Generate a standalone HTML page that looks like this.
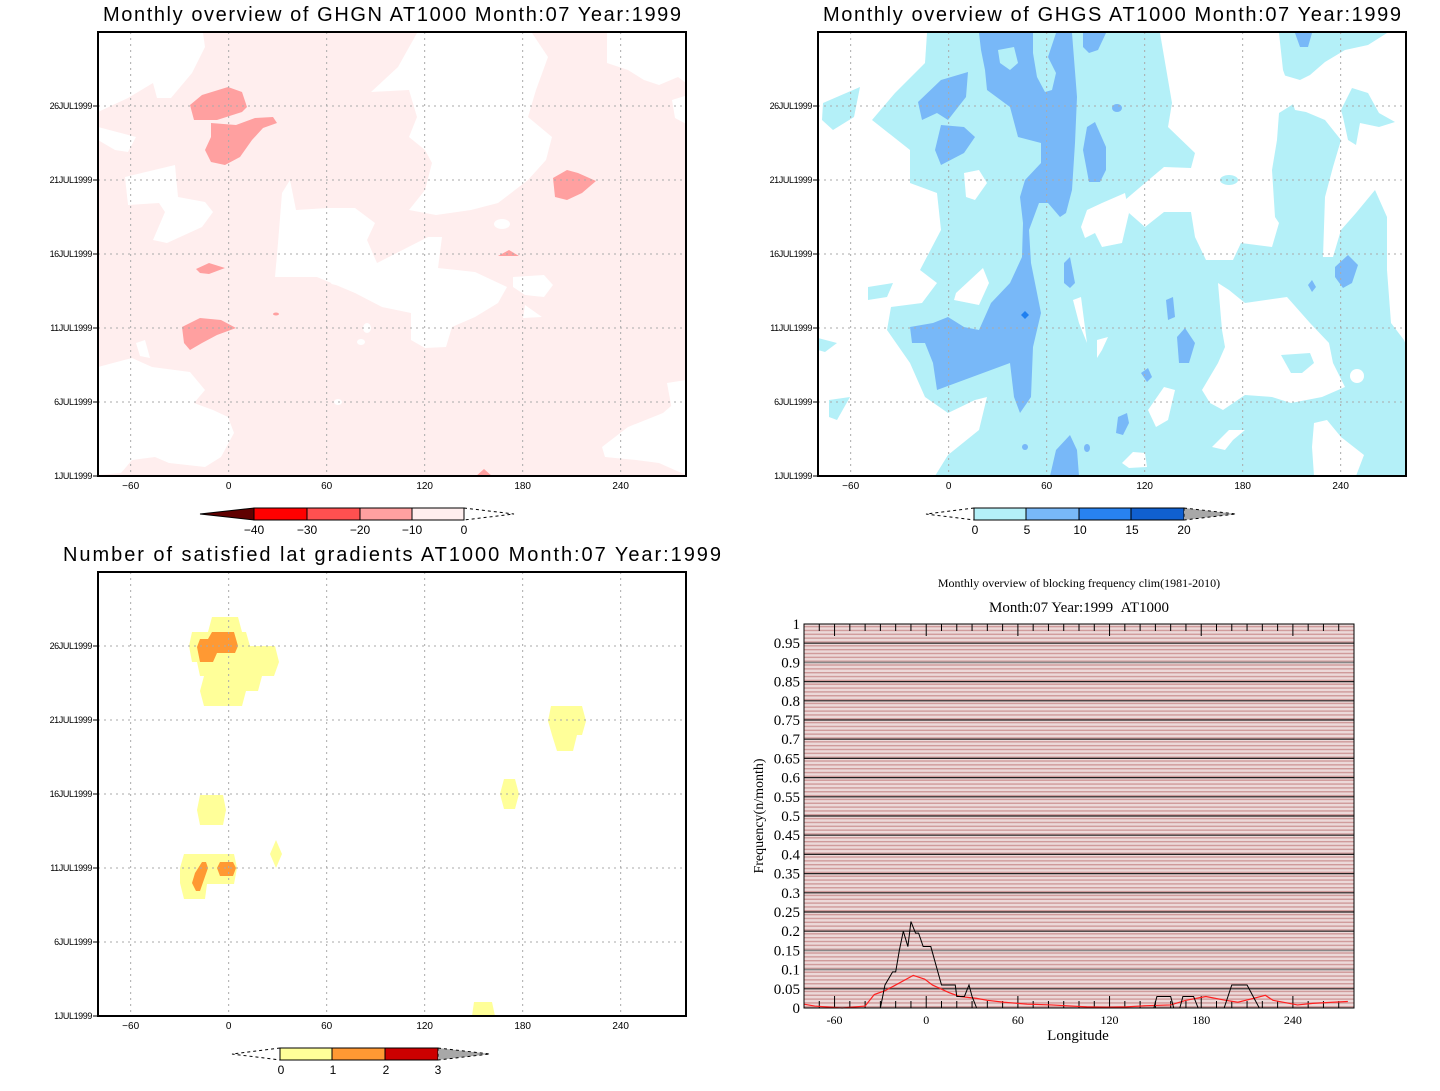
<!DOCTYPE html>
<html><head><meta charset="utf-8">
<style>
html,body{margin:0;padding:0;background:#fff;}
svg{display:block;}
.t{font-family:"Liberation Sans",sans-serif;}
.s{font-family:"Liberation Serif",serif;}
.grid{stroke:#aaa;stroke-width:1;stroke-dasharray:2,4;fill:none;}
</style></head>
<body>
<svg id="root" width="1440" height="1091" viewBox="0 0 1440 1091" xmlns="http://www.w3.org/2000/svg">
<defs>
<clipPath id="c1"><rect x="98" y="32" width="588" height="444"/></clipPath>
<clipPath id="c2"><rect x="818" y="32" width="588" height="444"/></clipPath>
<clipPath id="c3"><rect x="98" y="572" width="588" height="444"/></clipPath>
<pattern id="stripes" width="10" height="3.84" patternUnits="userSpaceOnUse" y="624">
<rect width="10" height="3.84" fill="#ecd9d9"/><rect y="1.92" width="10" height="1.4" fill="#cf9a9a"/>
</pattern>
</defs>

<!-- ===== Map 1: GHGN ===== -->
<g>
<text class="t" x="392" y="21" font-size="20" text-anchor="middle" textLength="578">Monthly overview of GHGN AT1000 Month:07 Year:1999</text>
<g clip-path="url(#c1)">
<rect x="98" y="32" width="588" height="444" fill="#ffeeee"/>
<g fill="#fff">
<polygon points="98,33 203,33 205,47 192,73 171,98 157,98 153,83 128,98 98,112"/>
<polygon points="417,33 532,33 548,57 536,90 528,117 552,137 546,160 528,180 498,203 471,210 436,215 409,210 425,190 432,163 425,150 409,137 417,117 409,90 371,92 398,67"/>
<polygon points="607,33 688,33 686,83 678,77 659,85 644,80 628,70 607,63"/>
<polygon points="672,100 688,95 688,125 675,118"/>
<polygon points="125,177 175,165 178,197 205,202 213,212 202,227 167,243 153,240 165,212 159,203 128,205"/>
<polygon points="98,127 136,137 128,152 115,150 98,140"/>
<polygon points="290,180 296,210 328,208 355,208 375,223 367,240 377,263 428,237 442,237 438,268 475,272 507,287 498,303 475,317 452,327 446,347 425,348 411,340 411,313 382,307 355,293 317,277 275,277 278,243 282,193"/>
<polygon points="513,277 544,275 553,285 544,297 525,295 513,287"/>
<polygon points="525,305 542,317 523,318"/>
<polygon points="98,367 113,363 132,358 152,367 190,372 205,390 194,403 213,410 228,417 234,433 221,457 205,467 169,463 155,457 132,460 121,473 98,475"/>
<polygon points="136,343 145,340 150,358 140,356"/>
<polygon points="98,375 112,375 110,410 104,430 98,430"/>
<polygon points="602,447 628,427 663,413 678,400 686,397 686,475 659,463 636,460 605,457"/>
<polygon points="667,383 686,380 686,413 672,410"/>
<ellipse cx="502" cy="224" rx="8" ry="5"/><ellipse cx="460" cy="62" rx="9" ry="5"/><ellipse cx="484" cy="47" rx="6" ry="3"/>
<ellipse cx="367" cy="328" rx="4" ry="5"/><ellipse cx="361" cy="342" rx="4" ry="3"/><ellipse cx="338" cy="283" rx="7" ry="2"/>
<ellipse cx="338" cy="402" rx="4" ry="3"/>
</g>
<g fill="#ffa0a0">
<polygon points="190,105 202,95 228,87 242,92 247,107 242,112 217,120 194,120"/>
<polygon points="211,123 236,125 255,118 273,117 277,123 263,128 252,140 240,157 225,165 211,162 205,150 211,137"/>
<polygon points="553,178 567,170 578,173 596,181 582,193 567,200 555,197"/>
<polygon points="196,269 209,263 225,268 209,274 200,273"/>
<polygon points="182,327 200,318 221,320 236,328 217,335 202,343 190,350 184,343"/>
<polygon points="498,256 509,250 519,256"/>
<ellipse cx="276" cy="314" rx="3" ry="1.5"/>
<polygon points="475,477 484,469 493,477"/>
</g>
</g>
<g id="g1"></g>
<rect x="98" y="32" width="588" height="444" fill="none" stroke="#000" stroke-width="2"/>
<g stroke="#000" stroke-width="1">
<polygon points="200,514 254,508 254,520" fill="#600000"/>
<rect x="254" y="508" width="53" height="12" fill="#ff0000"/>
<rect x="307" y="508" width="53" height="12" fill="#ff5050"/>
<rect x="360" y="508" width="52" height="12" fill="#ffa0a0"/>
<rect x="412" y="508" width="52" height="12" fill="#ffeeee"/>
<polyline points="464,508 514,514 464,520" fill="none" stroke-dasharray="3,3"/>
<g class="t" font-size="12" stroke="none" fill="#000" text-anchor="middle">
<text x="254" y="534">−40</text><text x="307" y="534">−30</text><text x="360" y="534">−20</text><text x="412" y="534">−10</text><text x="464" y="534">0</text>
</g></g>
</g>

<!-- ===== Map 2: GHGS ===== -->
<g>
<text class="t" x="1112" y="21" font-size="20" text-anchor="middle" textLength="578">Monthly overview of GHGS AT1000 Month:07 Year:1999</text>
<g clip-path="url(#c2)">
<rect x="818" y="32" width="588" height="444" fill="#b4f0f8"/>
<g fill="#fff">
<polygon points="818,33 927,33 925,63 895,93 872,120 910,150 910,183 937,193 941,230 920,270 937,283 922,303 891,307 887,330 910,363 925,397 948,413 975,400 987,397 979,430 948,455 935,476 818,476"/>
<polygon points="1160,33 1279,33 1283,70 1295,103 1279,113 1277,140 1272,170 1275,217 1279,223 1272,247 1241,243 1233,260 1206,260 1195,237 1191,212 1164,212 1145,227 1129,213 1125,200 1145,183 1164,167 1191,168 1195,153 1168,127 1172,103"/>
<polygon points="1283,75 1300,80 1310,75 1325,62 1345,50 1368,45 1387,33 1408,33 1408,350 1404,340 1391,323 1387,270 1387,217 1375,190 1356,213 1341,230 1333,257 1323,257 1325,197 1333,167 1341,140 1333,130 1325,120 1306,112 1295,110"/>
<polygon points="1245,303 1287,297 1310,323 1329,343 1333,363 1345,387 1322,397 1291,403 1272,397 1245,395 1223,410 1210,403 1202,390 1218,363 1225,347 1222,330 1218,283 1229,290"/>
<polygon points="1314,423 1327,420 1341,437 1364,455 1356,476 1314,476 1312,447"/>
<polygon points="1073,300 1081,297 1087,343 1079,323"/>
<polygon points="1097,340 1108,337 1102,350 1097,358"/>
<polygon points="1148,410 1164,387 1175,390 1168,420 1156,427"/>
<polygon points="1122,463 1133,452 1145,453 1147,467 1129,468"/>
<polygon points="1212,447 1229,430 1245,430 1233,440 1225,450"/>
<polygon points="964,173 979,170 987,183 975,200 966,197"/>
<polygon points="956,293 983,268 989,283 979,305 954,300"/>
<polygon points="1081,227 1087,210 1102,203 1125,193 1129,213 1122,243 1102,247 1095,233 1085,238"/>
<circle cx="1357" cy="376" r="7"/>
</g>
<g fill="#b4f0f8">
<polygon points="823,103 860,87 854,117 833,130 822,120"/>
<polygon points="868,287 893,283 887,297 868,300"/>
<polygon points="818,338 837,343 825,352 818,350"/>
<polygon points="829,400 850,397 837,420 829,417"/>
<ellipse cx="1229" cy="180" rx="9" ry="5"/>
<polygon points="1341,110 1352,88 1368,93 1379,113 1395,122 1379,127 1360,123 1356,145 1348,140 1343,117"/>
<polygon points="1281,355 1310,353 1314,363 1302,373 1291,373"/>
</g>
<g fill="#78b8f8">
<polygon points="979,33 1072,33 1077,97 1075,143 1072,190 1066,213 1060,217 1048,203 1039,203 1029,230 1031,263 1041,313 1033,347 1031,397 1020,413 1014,397 1010,363 964,380 937,390 933,363 925,343 912,343 910,327 933,323 948,317 964,327 979,330 991,303 1010,283 1022,257 1023,223 1020,197 1025,180 1041,163 1041,143 1018,137 1010,107 987,90 985,70 981,50"/>
<polygon points="918,102 941,80 968,72 966,97 948,120 937,113 922,120"/>
<polygon points="941,125 964,127 975,137 964,153 941,165 935,150"/>
<polygon points="1087,127 1095,122 1106,147 1106,170 1100,182 1089,182 1083,150"/>
<polygon points="1083,33 1106,33 1098,50 1089,53 1083,47"/>
<polygon points="1050,476 1056,450 1070,435 1077,450 1079,476"/>
<polygon points="1064,263 1070,257 1075,283 1070,288 1064,283"/>
<polygon points="1166,300 1173,297 1175,317 1168,320"/>
<polygon points="1177,337 1185,328 1195,343 1189,363 1179,363"/>
<polygon points="1141,373 1148,368 1152,377 1147,382"/>
<polygon points="1118,417 1127,413 1129,423 1123,435 1116,433"/>
<polygon points="1335,267 1348,255 1358,265 1352,283 1343,288 1335,277"/>
<polygon points="1295,33 1312,33 1308,47 1300,47"/>
<polygon points="1308,285 1312,280 1316,287 1312,292"/>
<ellipse cx="1117" cy="108" rx="5" ry="4"/><ellipse cx="1025" cy="447" rx="3" ry="3"/><ellipse cx="1087" cy="448" rx="3" ry="4"/>
</g>
<g fill="#b4f0f8">
<polygon points="1033,33 1056,33 1048,57 1056,73 1052,90 1045,92 1037,77 1033,53"/>
<polygon points="998,50 1014,47 1018,63 1010,70 1000,63"/>
</g>
<polygon points="1021,315 1025,311 1029,315 1025,319" fill="#2080f0"/>
</g>
<g id="g2"></g>
<rect x="818" y="32" width="588" height="444" fill="none" stroke="#000" stroke-width="2"/>
<g stroke="#000" stroke-width="1">
<polyline points="974,508 926,514 974,520" fill="none" stroke-dasharray="3,3"/>
<rect x="974" y="508" width="52" height="12" fill="#b4f0f8"/>
<rect x="1026" y="508" width="53" height="12" fill="#78b8f8"/>
<rect x="1079" y="508" width="52" height="12" fill="#2882f0"/>
<rect x="1131" y="508" width="53" height="12" fill="#1060d0"/>
<polygon points="1184,508 1236,514 1184,520" fill="#a8a8a8" stroke-dasharray="3,3"/>
<g class="t" font-size="12" stroke="none" fill="#000" text-anchor="middle">
<text x="975" y="534">0</text><text x="1027" y="534">5</text><text x="1080" y="534">10</text><text x="1132" y="534">15</text><text x="1184" y="534">20</text>
</g></g>
</g>

<!-- ===== Map 3: gradients ===== -->
<g>
<text class="t" x="392" y="561" font-size="20" text-anchor="middle" textLength="658">Number of satisfied lat gradients AT1000 Month:07 Year:1999</text>
<g clip-path="url(#c3)">
<g fill="#ffff99">
<polygon points="212,617 238,617 242,632 246,632 250,646 275,646 279,662 274,676 262,676 258,691 246,691 242,706 204,706 200,691 204,676 200,676 197,662 192,662 189,646 192,632 208,632"/>
<polygon points="551,706 582,706 586,721 582,735 577,735 573,751 557,751 552,735 548,721"/>
<polygon points="504,779 515,779 519,794 515,809 504,809 500,794"/>
<polygon points="200,795 223,795 226,810 223,825 200,825 197,810"/>
<polygon points="276,840 282,854 276,868 270,854"/>
<polygon points="184,854 234,854 237,868 234,884 207,884 205,899 184,899 180,883 180,868"/>
<polygon points="474,1002 492,1002 495,1016 472,1016"/>
</g>
<g fill="#ff9933">
<polygon points="212,632 234,632 238,646 235,653 217,653 213,662 200,662 197,647 200,639 208,639"/>
<polygon points="202,862 206,862 208,868 200,891 196,891 192,883 195,873"/>
<polygon points="220,862 233,862 236,868 233,876 220,876 217,868"/>
</g>
</g>
<g id="g3"></g>
<rect x="98" y="572" width="588" height="444" fill="none" stroke="#000" stroke-width="2"/>
<g stroke="#000" stroke-width="1">
<polyline points="280,1048 232,1054 280,1060" fill="none" stroke-dasharray="3,3"/>
<rect x="280" y="1048" width="52" height="12" fill="#ffff99"/>
<rect x="332" y="1048" width="53" height="12" fill="#ff9933"/>
<rect x="385" y="1048" width="53" height="12" fill="#cc0000"/>
<polygon points="438,1048 490,1054 438,1060" fill="#a8a8a8" stroke-dasharray="3,3"/>
<g class="t" font-size="12" stroke="none" fill="#000" text-anchor="middle">
<text x="281" y="1074">0</text><text x="333" y="1074">1</text><text x="386" y="1074">2</text><text x="438" y="1074">3</text>
</g></g>
</g>

<!-- ===== Line chart ===== -->
<g>
<text class="s" x="1079" y="587" font-size="12" text-anchor="middle">Monthly overview of blocking frequency clim(1981-2010)</text>
<text class="s" x="1079" y="612" font-size="15" text-anchor="middle">Month:07 Year:1999&#160;&#160;AT1000</text>
<rect x="804" y="624" width="550" height="384" fill="url(#stripes)"/>
<g id="lc"></g>
<rect x="804" y="624" width="550" height="384" fill="none" stroke="#000" stroke-width="1"/>
<text class="s" x="1078" y="1040" font-size="15" text-anchor="middle">Longitude</text>
<text class="s" x="763" y="816" font-size="14" text-anchor="middle" transform="rotate(-90 763 816)">Frequency(n/month)</text>
</g>
</svg>

<script>
// ---- Line chart data ----
const blackLon = [-80,-30,-27,-22,-20,-17.6,-15,-12,-10,-7,-5,-2,3,10,19,20,25,28,30,33,149,151,160,162,166,168,175,178,195,200,210,214,218,280];
const blackVal = [0,0,0.06,0.094,0.094,0.15,0.2,0.16,0.225,0.195,0.195,0.16,0.16,0.06,0.06,0.03,0.03,0.06,0.03,0,0,0.03,0.03,0,0,0.03,0.03,0,0,0.06,0.06,0.03,0,0];
const redLon = [-80,-73,-55,-40,-34,-27,-19,-8.5,-1,4,15,22,33,40,51,66,82,105,118,131,144,160,170,183,196,204,214,222,227,243,253,266,276];
const redVal = [0.01,0.005,0,0.005,0.035,0.045,0.062,0.085,0.075,0.06,0.04,0.03,0.025,0.02,0.015,0.01,0.008,0.003,0.002,0.003,0.006,0.008,0.02,0.03,0.02,0.015,0.025,0.033,0.02,0.008,0.012,0.015,0.017];
const yTicks = [0,0.05,0.1,0.15,0.2,0.25,0.3,0.35,0.4,0.45,0.5,0.55,0.6,0.65,0.7,0.75,0.8,0.85,0.9,0.95,1];
const yTickLabels = ["0","0.05","0.1","0.15","0.2","0.25","0.3","0.35","0.4","0.45","0.5","0.55","0.6","0.65","0.7","0.75","0.8","0.85","0.9","0.95","1"];
const lonTicks = [-60,0,60,120,180,240];
const dateTicks = [1,6,11,16,21,26];
const dateLabels = ["1JUL1999","6JUL1999","11JUL1999","16JUL1999","21JUL1999","26JUL1999"];

const NS = "http://www.w3.org/2000/svg";
function mk(tag, attrs, parent){const e=document.createElementNS(NS,tag);for(const k in attrs)e.setAttribute(k,attrs[k]);parent.appendChild(e);return e;}

// line chart axes
const X0=804,X1=1354,Y0=1008,Y1=624;
function xs(lon){return X0+(lon+80)/360*(X1-X0);}
function ys(v){return Y0-v*(Y0-Y1);}
const lc=document.getElementById('lc');
yTicks.forEach((v,i)=>{
  const gray=(Math.abs(v-0.9)<1e-6||Math.abs(v-0.15)<1e-6||Math.abs(v-0.1)<1e-6);
  if(v>0&&v<1){const l=mk('line',{x1:X0,x2:X1,y1:ys(v),y2:ys(v),stroke:gray?'#888':'#222','stroke-width':gray?1.6:1.2},lc);
  
  }
  const t=mk('text',{x:800,y:ys(v)+5,'font-size':15,'text-anchor':'end','class':'s'},lc);
  t.textContent=yTickLabels[i];
  
  
});
for(let lon=-70;lon<=270;lon+=10){
  const major=lonTicks.includes(lon);const len=major?12:7;
  const a=mk('line',{x1:xs(lon),x2:xs(lon),y1:Y1,y2:Y1+len,stroke:'#000'},lc);
  
  
  const b=mk('line',{x1:xs(lon),x2:xs(lon),y1:Y0,y2:Y0-len,stroke:'#000'},lc);
  
  
}
lonTicks.forEach(lon=>{
  const t=mk('text',{x:xs(lon),y:1024,'font-size':12,'text-anchor':'middle','class':'s'},lc);
  t.textContent=String(lon);
  
  
});
const redLine=mk('polyline',{points:redLon.map((l,i)=>xs(l)+','+ys(redVal[i])).join(' '),fill:'none',stroke:'#ff2020','stroke-width':1.2},lc);


const blackLine=mk('polyline',{points:blackLon.map((l,i)=>xs(l)+','+ys(blackVal[i])).join(' '),fill:'none',stroke:'#000','stroke-width':1},lc);



// map grids & axes
function mapAxes(gid,left,top){
  const g=document.getElementById(gid);
  const W=588,H=444;
  const mx=lon=>left+(lon+80)/360*W;
  const my=d=>top+H-(d-1)/30*H;
  lonTicks.forEach(lon=>{
    const l=mk('line',{x1:mx(lon),x2:mx(lon),y1:top,y2:top+H,'class':'grid'},g);
    
    
    const t=mk('text',{x:mx(lon),y:top+H+13,'font-size':10,'text-anchor':'middle','class':'t'},g);
    t.textContent=lon<0?'−'+(-lon):String(lon);
    
    
  });
  dateTicks.forEach((d,i)=>{
    if(d>1){const l=mk('line',{x1:left,x2:left+W,y1:my(d),y2:my(d),'class':'grid'},g);
    
    }
    mk('line',{x1:left-5,x2:left,y1:my(d),y2:my(d),stroke:'#000'},g);
    const t=mk('text',{x:left-6,y:my(d)+3,'font-size':9,'text-anchor':'end','class':'t','letter-spacing':'-0.4'},g);
    t.textContent=dateLabels[i];
    
    
  });
}
mapAxes('g1',98,32);mapAxes('g2',818,32);mapAxes('g3',98,572);
</script>
</body></html>
